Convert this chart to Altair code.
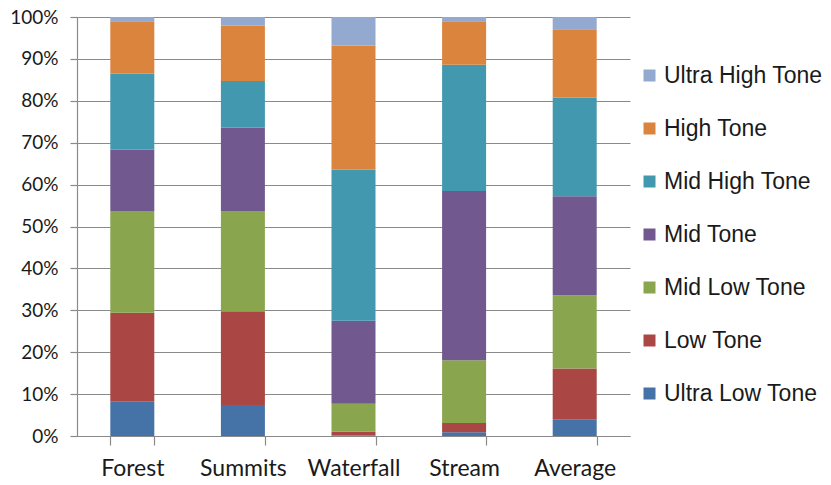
import altair as alt
import pandas as pd

categories = ["Forest", "Summits", "Waterfall", "Stream", "Average"]
series = ["Ultra Low Tone", "Low Tone", "Mid Low Tone", "Mid Tone",
          "Mid High Tone", "High Tone", "Ultra High Tone"]
ultra_low = [8.3, 7.4, 0.1, 0.9, 4.0]
low = [21.1, 22.4, 0.9, 2.2, 12.1]
mid_low = [24.3, 23.9, 6.7, 15.0, 17.5]
mid = [14.6, 19.9, 19.8, 40.4, 23.6]
mid_high = [18.2, 11.1, 36.1, 30.1, 23.6]
high = [12.5, 13.3, 29.6, 10.4, 16.3]
ultra_high = [1.0, 2.0, 6.8, 1.0, 2.9]
colors = ["#4572A7", "#AA4643", "#89A54E", "#71588F", "#4198AF", "#DB843D", "#93A9CF"]

values = [ultra_low, low, mid_low, mid, mid_high, high, ultra_high]
rows = []
for si, (name, vals) in enumerate(zip(series, values)):
    for cat, v in zip(categories, vals):
        rows.append({"category": cat, "series": name, "value": v, "idx": si})
df = pd.DataFrame(rows)

axis_font = "Lato"
legend_font = "Liberation Sans"

chart = alt.Chart(df).mark_bar(size=44).encode(
    x=alt.X("category:N", sort=categories, title=None,
            scale=alt.Scale(paddingInner=0.6, paddingOuter=0.3),
            axis=alt.Axis(labelAngle=0, labelFontSize=23, labelFont=axis_font,
                          labelColor="#1a1a1a", labelPadding=12,
                          tickBand="extent", tickSize=9, tickColor="#8a8a8a",
                          tickWidth=1.2, domainColor="#8a8a8a", domainWidth=1.2,
                          grid=False)),
    y=alt.Y("value:Q", stack="normalize", title=None,
            scale=alt.Scale(domain=[0, 1]),
            axis=alt.Axis(format=".0%", values=[i / 10 for i in range(11)],
                          labelFontSize=19, labelFont=axis_font, labelColor="#1a1a1a",
                          labelPadding=12, tickSize=7, tickColor="#8a8a8a",
                          tickWidth=1.2, gridColor="#8a8a8a", gridWidth=1.2,
                          domainColor="#8a8a8a", domainWidth=1.2)),
    color=alt.Color("series:N",
                    scale=alt.Scale(domain=series[::-1], range=colors[::-1]),
                    legend=alt.Legend(title=None, orient="none", legendX=561,
                                      legendY=47, symbolType="square",
                                      symbolSize=144, symbolStrokeWidth=0,
                                      labelFontSize=23, labelFont=legend_font,
                                      labelColor="#1a1a1a", labelOffset=3,
                                      rowPadding=29, padding=0, labelLimit=300)),
    order=alt.Order("idx:Q", sort="ascending"),
).properties(
    width=553, height=419,
    background="white",
    autosize=alt.AutoSizeParams(type="none"),
    padding={"left": 77, "top": 17, "right": 201, "bottom": 49},
).configure_view(strokeWidth=0)

chart.save("out.html", embed_options={"renderer": "svg", "actions": False})
